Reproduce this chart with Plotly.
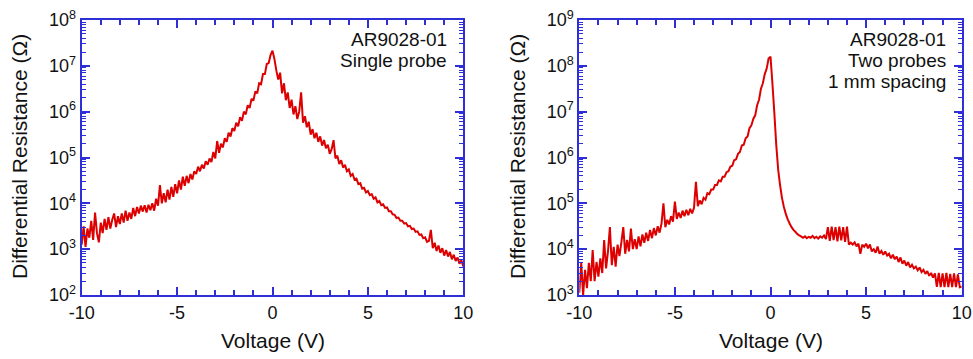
import numpy as np
import plotly.graph_objects as go

# ---- data ----
voltage = np.linspace(-10, 10, 201)  # V, sweep grid

# log10 of differential resistance (Ohm), single probe
left_log10_R = [
    3.10, 3.50, 3.05, 3.45, 3.25, 3.62, 3.20, 3.80, 3.35, 3.15,   # -10.0 .. -9.1
    3.58, 3.35, 3.66, 3.42, 3.70, 3.45, 3.64, 3.78, 3.48, 3.72,   # -9.0 .. -8.1
    3.55, 3.78, 3.58, 3.84, 3.62, 3.80, 3.66, 3.90, 3.72, 3.92,   # -8.0 .. -7.1
    3.78, 3.95, 3.82, 3.96, 3.80, 3.97, 3.85, 4.00, 3.84, 4.10,   # -7.0 .. -6.1
    3.95, 4.40, 4.00, 4.22, 4.02, 4.30, 4.08, 4.36, 4.14, 4.42,   # -6.0 .. -5.1
    4.22, 4.50, 4.30, 4.58, 4.38, 4.60, 4.44, 4.64, 4.52, 4.70,   # -5.0 .. -4.1
    4.64, 4.80, 4.70, 4.84, 4.76, 4.92, 4.84, 4.98, 4.90, 5.12,   # -4.0 .. -3.1
    4.98, 5.36, 5.10, 5.30, 5.22, 5.42, 5.34, 5.54, 5.46, 5.64,   # -3.0 .. -2.1
    5.58, 5.76, 5.68, 5.88, 5.80, 6.00, 5.94, 6.14, 6.08, 6.28,   # -2.0 .. -1.1
    6.24, 6.44, 6.40, 6.62, 6.60, 6.82, 6.82, 7.04, 7.06, 7.24,   # -1.0 .. -0.1
    7.33, 7.15, 6.90, 6.70, 6.85, 6.40, 6.62, 6.25, 6.42, 6.08,   #  0.0 ..  0.9
    6.26, 5.94, 6.12, 5.84, 6.00, 6.42, 5.76, 5.90, 5.66, 5.78,   #  1.0 ..  1.9
    5.50, 5.62, 5.42, 5.54, 5.34, 5.46, 5.26, 5.38, 5.20, 5.28,   #  2.0 ..  2.9
    5.08, 5.18, 5.38, 4.98, 5.04, 4.86, 4.94, 4.78, 4.84, 4.70,   #  3.0 ..  3.9
    4.74, 4.60, 4.64, 4.52, 4.54, 4.42, 4.44, 4.32, 4.34, 4.24,   #  4.0 ..  4.9
    4.27, 4.18, 4.20, 4.10, 4.13, 4.02, 4.05, 3.96, 3.98, 3.90,   #  5.0 ..  5.9
    3.91, 3.83, 3.83, 3.76, 3.75, 3.68, 3.69, 3.62, 3.62, 3.56,   #  6.0 ..  6.9
    3.57, 3.50, 3.51, 3.44, 3.45, 3.38, 3.39, 3.31, 3.32, 3.24,   #  7.0 ..  7.9
    3.26, 3.16, 3.18, 3.42, 3.02, 3.14, 2.96, 3.08, 2.92, 3.02,   #  8.0 ..  8.9
    2.86, 2.98, 2.84, 2.94, 2.78, 2.88, 2.74, 2.82, 2.68, 2.76,   #  9.0 ..  9.9
    2.62,                                                         # 10.0
]

# log10 of differential resistance (Ohm), two probes 1 mm spacing
right_log10_R = [
    3.05, 3.70, 3.00, 3.55, 3.15, 3.70, 3.30, 3.98, 3.30, 3.72,   # -10.0 .. -9.1
    3.40, 3.80, 3.48, 4.20, 3.58, 3.95, 4.48, 3.65, 4.05, 3.62,   # -9.0 .. -8.1
    4.10, 3.85, 4.15, 4.48, 3.90, 4.20, 3.95, 4.45, 4.00, 4.22,   # -8.0 .. -7.1
    4.00, 4.28, 4.06, 4.32, 4.14, 4.36, 4.18, 4.42, 4.24, 4.46,   # -7.0 .. -6.1
    4.30, 4.50, 4.36, 4.56, 5.00, 4.48, 4.64, 4.54, 4.72, 4.60,   # -6.0 .. -5.1
    5.04, 4.66, 4.80, 4.68, 4.84, 4.72, 4.86, 4.74, 4.88, 4.78,   # -5.0 .. -4.1
    4.90, 5.47, 4.94, 5.06, 4.98, 5.12, 5.08, 5.22, 5.20, 5.30,   # -4.0 .. -3.1
    5.30, 5.40, 5.40, 5.50, 5.48, 5.58, 5.58, 5.68, 5.70, 5.80,   # -3.0 .. -2.1
    5.82, 5.94, 5.96, 6.08, 6.12, 6.26, 6.28, 6.42, 6.46, 6.64,   # -2.0 .. -1.1
    6.70, 6.84, 6.92, 7.14, 7.26, 7.50, 7.62, 7.82, 7.94, 8.16,   # -1.0 .. -0.1
    8.20, 7.62, 6.98, 6.28, 5.74, 5.40, 5.12, 4.92, 4.77, 4.65,   #  0.0 ..  0.9
    4.56, 4.48, 4.42, 4.38, 4.33, 4.30, 4.28, 4.25, 4.28, 4.24,   #  1.0 ..  1.9
    4.27, 4.25, 4.29, 4.24, 4.27, 4.23, 4.28, 4.25, 4.30, 4.22,   #  2.0 ..  2.9
    4.48, 4.18, 4.49, 4.20, 4.48, 4.17, 4.49, 4.19, 4.48, 4.16,   #  3.0 ..  3.9
    4.49, 4.10, 4.14, 4.10, 4.15, 4.06, 4.12, 3.90, 4.10, 4.05,   #  4.0 ..  4.9
    4.12, 4.02, 4.10, 3.95, 4.00, 3.92, 4.06, 3.90, 3.96, 3.88,   #  5.0 ..  5.9
    3.95, 3.86, 3.90, 3.80, 3.88, 3.78, 3.84, 3.72, 3.82, 3.68,   #  6.0 ..  6.9
    3.75, 3.64, 3.72, 3.60, 3.66, 3.58, 3.62, 3.54, 3.60, 3.50,   #  7.0 ..  7.9
    3.55, 3.46, 3.52, 3.42, 3.48, 3.38, 3.47, 3.18, 3.48, 3.17,   #  8.0 ..  8.9
    3.47, 3.17, 3.48, 3.17, 3.46, 3.17, 3.47, 3.17, 3.45, 3.17,   #  9.0 ..  9.9
    3.18,                                                         # 10.0
]

x_tick_vals = [-10, -5, 0, 5, 10]
x_tick_text = ["-10", "-5", "0", "5", "10"]
left_decades = [2, 3, 4, 5, 6, 7, 8]
right_decades = [3, 4, 5, 6, 7, 8, 9]
left_labels = ["AR9028-01", "Single probe"]
right_labels = ["AR9028-01", "Two probes", "1 mm spacing"]
x_title = "Voltage (V)"
y_title = "Differential Resistance (Ω)"

left_R = [10 ** v for v in left_log10_R]
right_R = [10 ** v for v in right_log10_R]

# ---- layout helpers (pixel -> paper) ----
W, H = 973, 359
def fx(p):
    return p / W
def fy(p):
    return 1 - p / H

FONT = "Liberation Sans, Arial, sans-serif"
AXIS = "#2f2fd8"
RED = "#dd0000"

fig = go.Figure()
fig.add_trace(go.Scatter(x=voltage, y=left_R, mode="lines",
                         line=dict(color=RED, width=2, simplify=False),
                         xaxis="x", yaxis="y", showlegend=False))
fig.add_trace(go.Scatter(x=voltage, y=right_R, mode="lines",
                         line=dict(color=RED, width=2, simplify=False),
                         xaxis="x2", yaxis="y2", showlegend=False))

def xaxis(domain, anchor):
    return dict(domain=domain, anchor=anchor, range=[-10, 10], automargin=False,
                tickmode="array", tickvals=x_tick_vals, ticktext=x_tick_text,
                ticks="inside", ticklen=8, tickwidth=1.5, tickcolor=AXIS,
                showline=True, linecolor=AXIS, linewidth=2, mirror="ticks",
                showgrid=False, zeroline=False,
                tickfont=dict(family=FONT, size=18, color="#111111"),
                minor=dict(tickmode="linear", tick0=0, dtick=1, ticks="inside",
                           ticklen=5, tickwidth=1.5, tickcolor=AXIS, showgrid=False))

def yaxis(domain, anchor, decades):
    minor_vals = [m * 10 ** d for d in decades[:-1] for m in range(2, 10)]
    return dict(domain=domain, anchor=anchor, type="log", automargin=False,
                range=[decades[0], decades[-1]],
                tickmode="array", tickvals=[10 ** d for d in decades],
                ticktext=["10<sup>%d</sup>" % d for d in decades],
                ticks="inside", ticklen=8, tickwidth=1.5, tickcolor=AXIS,
                showline=True, linecolor=AXIS, linewidth=2, mirror="ticks",
                showgrid=False, zeroline=False,
                tickfont=dict(family=FONT, size=18, color="#111111"),
                minor=dict(tickmode="array", tickvals=minor_vals, ticks="inside",
                           ticklen=4, tickwidth=1.2, tickcolor=AXIS, showgrid=False))

ydom = [fy(295), fy(20)]
fig.update_layout(
    width=W, height=H,
    margin=dict(l=0, r=0, t=0, b=0, autoexpand=False),
    paper_bgcolor="white", plot_bgcolor="white",
    font=dict(family=FONT, color="#111111"),
    xaxis=xaxis([fx(81.7), fx(463.3)], "y"),
    yaxis=yaxis(ydom, "x", left_decades),
    xaxis2=xaxis([fx(579.3), fx(961.7)], "y2"),
    yaxis2=yaxis(ydom, "x2", right_decades),
)

ann = []
for cx in (272.5, 770.5):
    ann.append(dict(text=x_title, x=fx(cx), y=fy(340), xref="paper", yref="paper",
                    xanchor="center", yanchor="middle", showarrow=False,
                    font=dict(family=FONT, size=21, color="#111111")))
for cx in (19, 517):
    ann.append(dict(text=y_title, x=fx(cx), y=fy(157), xref="paper", yref="paper",
                    xanchor="center", yanchor="middle", showarrow=False, textangle=-90,
                    font=dict(family=FONT, size=21, color="#111111")))
for labels, rx in ((left_labels, 449), (right_labels, 947.5)):
    for i, t in enumerate(labels):
        ann.append(dict(text=t, x=fx(rx), y=fy(40 + 20.5 * i), xref="paper", yref="paper",
                        xanchor="right", yanchor="middle", showarrow=False,
                        font=dict(family=FONT, size=19, color="#111111")))
fig.update_layout(annotations=ann)

fig.write_html("out.html")
